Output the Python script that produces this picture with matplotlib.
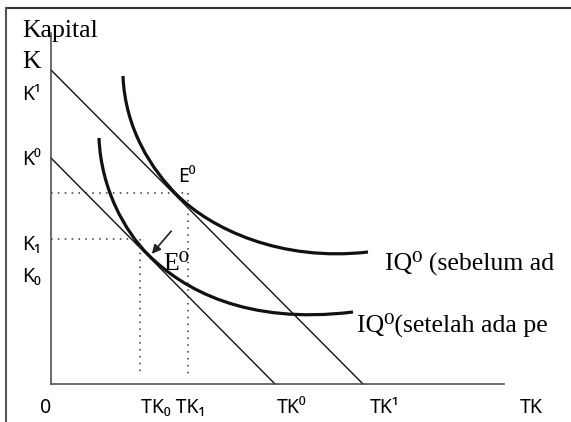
import matplotlib
matplotlib.use("Agg")
import matplotlib.pyplot as plt
from matplotlib.lines import Line2D
from matplotlib.path import Path
from matplotlib.patches import PathPatch

# ---- data (schematic units) ----
budget_k = [31.4, 22.6]     # K-intercepts: K1 (outer), K0 (inner)
budget_tk = [31.2, 22.4]    # TK-intercepts: TK1 (outer), TK0 (inner)

# indifference curves as cubic Bezier control points (start, c1, c2, tangent pt, c1, c2, end)
iq_before_x = [7.2, 7.4, 10.1, 12.6, 16.0, 23.0, 31.7]
iq_before_y = [30.8, 25.5, 21.4, 18.9, 15.5, 12.2, 13.2]
iq_after_x = [4.8, 5.0, 7.4, 9.7, 13.2, 19.5, 30.2]
iq_after_y = [24.6, 19.5, 15.25, 12.95, 9.45, 5.9, 7.2]

eq_before = (13.7, 19.1)    # E0 before (TK1, dotted)
eq_after = (8.9, 14.5)      # E0 after (TK0, dotted)
dot_bottom = 0.9
arrow_tail = (12.2, 15.5)
arrow_head = (9.9, 12.8)

y_labels = ["K", "K¹", "K⁰", "K₁", "K₀"]
y_label_pos = [31.6, 28.4, 21.9, 13.4, 10.2]
x_labels = ["0", "TK₀ TK₁", "TK⁰", "TK¹", "TK"]
x_label_pos = [-1.1, 9.0, 22.6, 31.9, 46.9]

SERIF = ["Liberation Serif", "DejaVu Serif"]
SANS = ["Noto Sans", "DejaVu Sans"]

fig = plt.figure(figsize=(5.71, 4.22), dpi=100)
ax = fig.add_axes([0, 0, 1, 1])
ax.set_xlim(-5.1, 52.0)
ax.set_ylim(-3.8, 38.4)
ax.set_xticks([])
ax.set_yticks([])
ax.patch.set_visible(False)
for s in ["top", "right"]:
    ax.spines[s].set_visible(False)
for s in ["left", "bottom"]:
    ax.spines[s].set_position(("data", 0))
    ax.spines[s].set_color("#444444")
    ax.spines[s].set_linewidth(1.1)
ax.spines["left"].set_bounds(0, 35.1)
ax.spines["bottom"].set_bounds(0, 45.3)

# outer frame (figure border)
fx = 6 / 571
fy = 1 - 8 / 422
fig.add_artist(Line2D([fx, 1.0], [fy, fy], transform=fig.transFigure, color="#333333", lw=1.5))
fig.add_artist(Line2D([fx, fx], [fy, 0.0], transform=fig.transFigure, color="#555555", lw=1.5))

# budget lines
for k, tk in zip(budget_k, budget_tk):
    ax.plot([0, tk], [k, 0], color="#111111", lw=1.0)

# indifference curves (smooth Bezier paths)
codes = [Path.MOVETO] + [Path.CURVE4] * 6
for xs, ys in [(iq_before_x, iq_before_y), (iq_after_x, iq_after_y)]:
    path = Path(list(zip(xs, ys)), codes)
    ax.add_patch(PathPatch(path, fill=False, edgecolor="#111111", lw=2.3, capstyle="butt"))

# dotted guide lines
for ex, ey in [eq_before, eq_after]:
    ax.plot([0, ex], [ey, ey], color="#333333", lw=1.1, ls=(0, (1, 3.5)))
    ax.plot([ex, ex], [ey, dot_bottom], color="#333333", lw=1.1, ls=(0, (1, 3.5)))

# arrow
ax.annotate("", xy=arrow_head, xytext=arrow_tail,
            arrowprops=dict(arrowstyle="-|>", color="#222222", lw=1.2, mutation_scale=13))

# texts
ax.text(-2.9, 34.7, "Kapital", family=SERIF, fontsize=18.5, va="baseline", ha="left")
for lab, y in zip(y_labels, y_label_pos):
    fam = SERIF if lab == "K" else SANS
    fs = 18.5 if lab == "K" else 14
    ax.text(-2.9, y, lab, family=fam, fontsize=fs, va="baseline", ha="left")
for lab, x in zip(x_labels, x_label_pos):
    ax.text(x, -2.9, lab, family=SANS, fontsize=14, va="baseline", ha="left")

ax.text(12.7, 20.2, "E⁰", family=SANS, fontsize=14, va="baseline", ha="left")
ax.text(11.2, 11.4, "E⁰", family=SERIF, fontsize=18.5, va="baseline", ha="left")

ax.text(33.4, 11.4, "IQ⁰ (sebelum ad", family=SERIF, fontsize=18.5, va="baseline", ha="left")
ax.text(30.6, 5.2, "IQ⁰(setelah ada pe", family=SERIF, fontsize=18.5, va="baseline", ha="left")

fig.savefig("out.png", dpi=100)
